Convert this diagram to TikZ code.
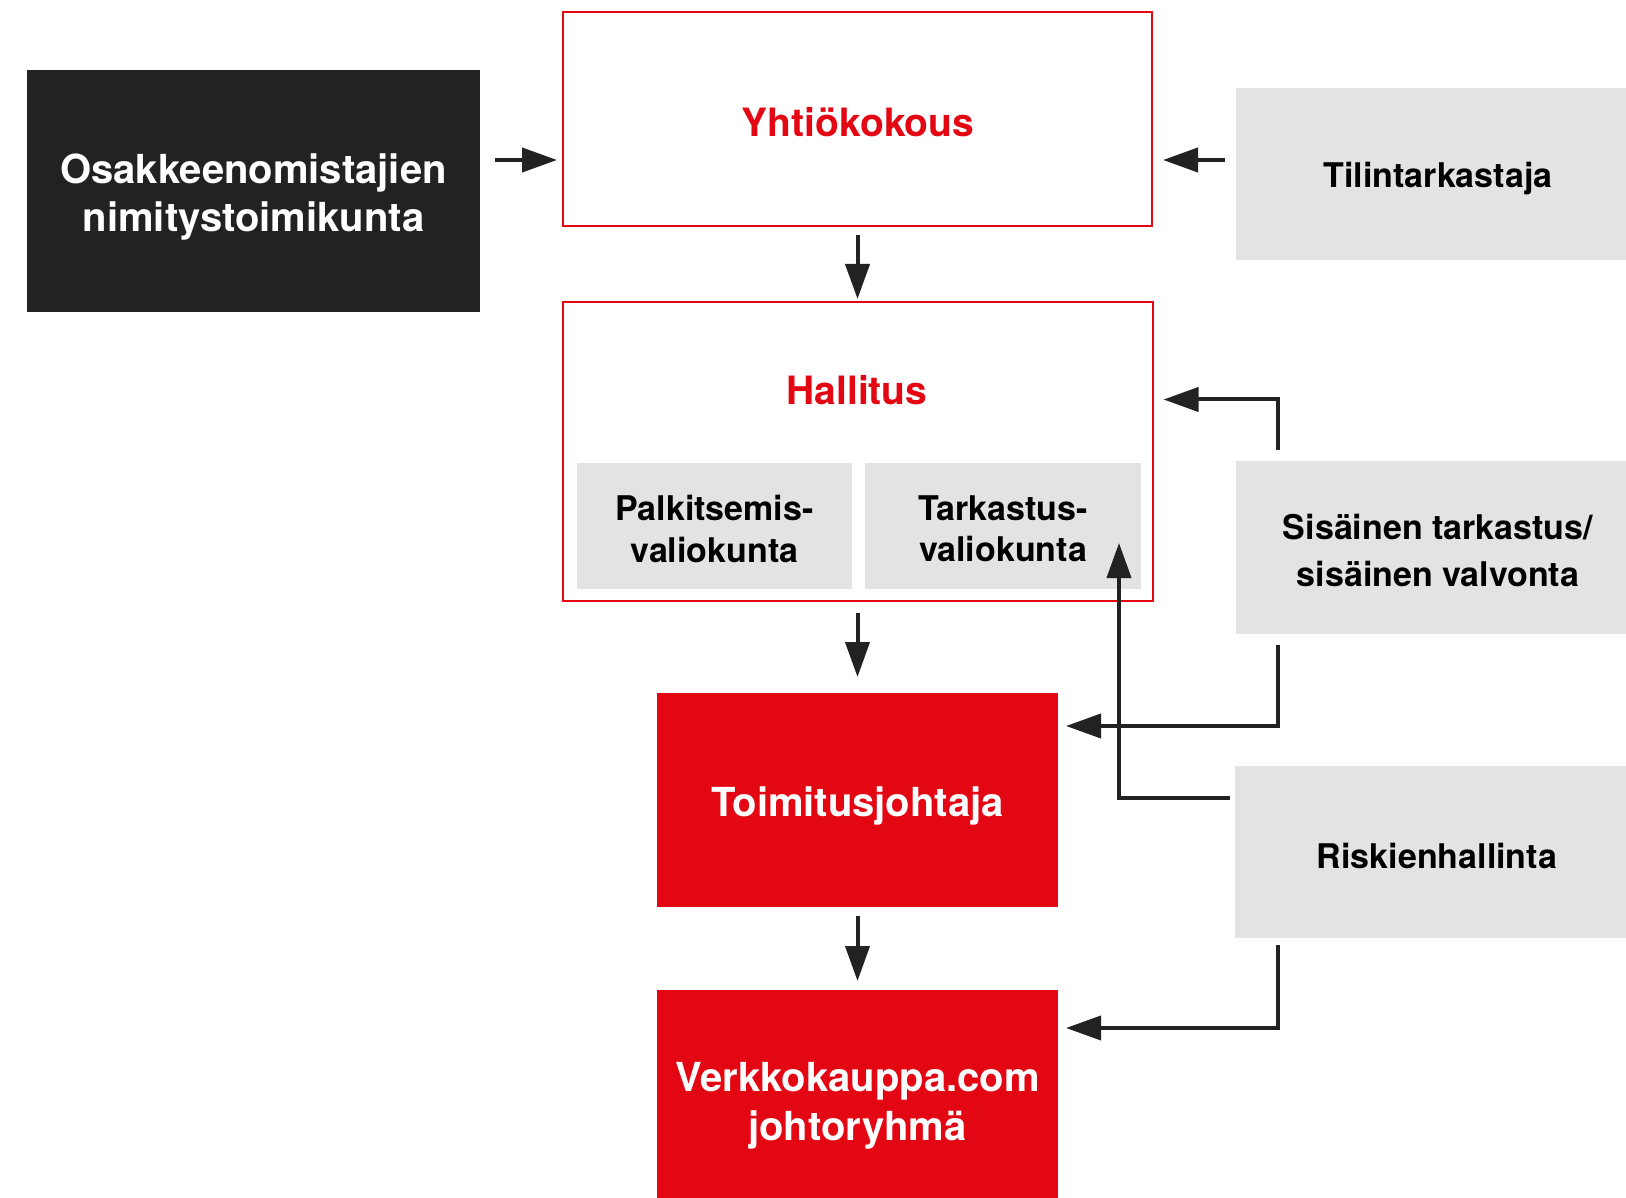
\documentclass[tikz,border=0pt]{standalone}
\usepackage{fontspec}
\setmainfont{TeX Gyre Heros}
\usetikzlibrary{arrows.meta,calc}
\definecolor{vkred}{RGB}{227,6,19}
\definecolor{vkdark}{RGB}{34,34,34}
\definecolor{vkgray}{RGB}{227,227,227}
\tikzset{
  box/.style={rectangle,inner sep=0pt,outer sep=0pt,align=center,font=\bfseries},
  txt/.style={inner sep=0pt,outer sep=0pt,align=center},
  big/.style={font=\fontsize{39}{48.5}\selectfont\bfseries},
  bigw/.style={font=\fontsize{40}{48.5}\selectfont\bfseries},
  small/.style={font=\fontsize{34}{47.5}\selectfont\bfseries},
  smalltight/.style={font=\fontsize{34}{41.5}\selectfont\bfseries},
  redline/.style={box,draw=vkred,line width=2pt},
  redfill/.style={box,fill=vkred},
  darkfill/.style={box,fill=vkdark},
  grayfill/.style={box,fill=vkgray},
  arr/.style={draw=vkdark,line width=4pt,line join=miter,
    -{Triangle[length=35pt,width=24pt]}}
}
\begin{document}
\begin{tikzpicture}[x=1pt,y=-1pt]
\useasboundingbox (0,0) rectangle (1626,1198);
% boxes
\node[darkfill,minimum width=453pt,minimum height=242pt] (sh) at (253.5,191) {};
\node[txt,bigw,text=white] (shtxt) at ($(sh)+(0,6)$) {Osakkeenomistajien\\nimitystoimikunta};
\node[redline,minimum width=589pt,minimum height=214pt] (yk) at (857.5,119) {};
\node[txt,big,text=vkred] (yktxt) at (858,122) {Yhtiökokous};
\node[grayfill,minimum width=404pt,minimum height=172pt] (tilin) at (1438,174) {};
\node[txt,small] (tilintxt) at ($(tilin)+(0,5)$) {Tilintarkastaja};
\node[redline,minimum width=590pt,minimum height=299pt] (hal) at (857.5,451.5) {};
\node[txt,big,text=vkred] (haltxt) at (857,390) {Hallitus};
\node[grayfill,minimum width=275pt,minimum height=126pt] (palk) at (714.5,526) {};
\node[txt,smalltight] (palktxt) at ($(palk)+(0,3)$) {Palkitsemis-\\valiokunta};
\node[grayfill,minimum width=276pt,minimum height=126pt] (tark) at (1003,526) {};
\node[txt,smalltight] (tarktxt) at ($(tark)+(0,3)$) {Tarkastus-\\valiokunta};
\node[grayfill,minimum width=404pt,minimum height=173pt] (sis) at (1438,547.5) {};
\node[txt,small] (sistxt) at ($(sis)+(0,3)$) {Sisäinen tarkastus/\\sisäinen valvonta};
\node[redfill,minimum width=401pt,minimum height=214pt] (toim) at (857.5,800) {};
\node[txt,bigw,text=white] (toimtxt) at ($(toim)+(0,6)$) {Toimitusjohtaja};
\node[grayfill,minimum width=404pt,minimum height=172pt] (risk) at (1437,852) {};
\node[txt,small] (risktxt) at ($(risk)+(0,4)$) {Riskienhallinta};
\node[redfill,minimum width=401pt,minimum height=222pt] (verk) at (857.5,1101) {};
\node[txt,bigw,text=white] (verktxt) at ($(verk)+(0,5)$) {Verkkokauppa.com\\johtoryhmä};
% connectors
\draw[arr] ($(sh.east)+(15,-31)$) -- ($(yk.west)+(-6,41)$);
\draw[arr] ($(tilin.west)+(-11,-14)$) -- ($(yk.east)+(11,41)$);
\draw[arr] ($(yk.south)+(0,9)$) -- ($(hal.north)+(0,-3)$);
\draw[arr] ($(hal.south)+(0,12)$) -- ($(toim.north)+(0,-16)$);
\draw[arr] ($(toim.south)+(0,9)$) -- ($(verk.north)+(0,-9)$);
\draw[arr] ($(sis.north west)+(42,-11)$) |- ($(hal.east)+(11,-52)$);
\draw[arr] ($(sis.south west)+(42,11)$) |- ($(toim.east)+(8,-74)$);
\draw[arr] ($(risk.west)+(-5,-54)$) -| ($(tark.south east)+(-22,-46)$);
\draw[arr] ($(risk.south west)+(43,7)$) |- ($(verk.east)+(8,-73)$);
\end{tikzpicture}
\end{document}
